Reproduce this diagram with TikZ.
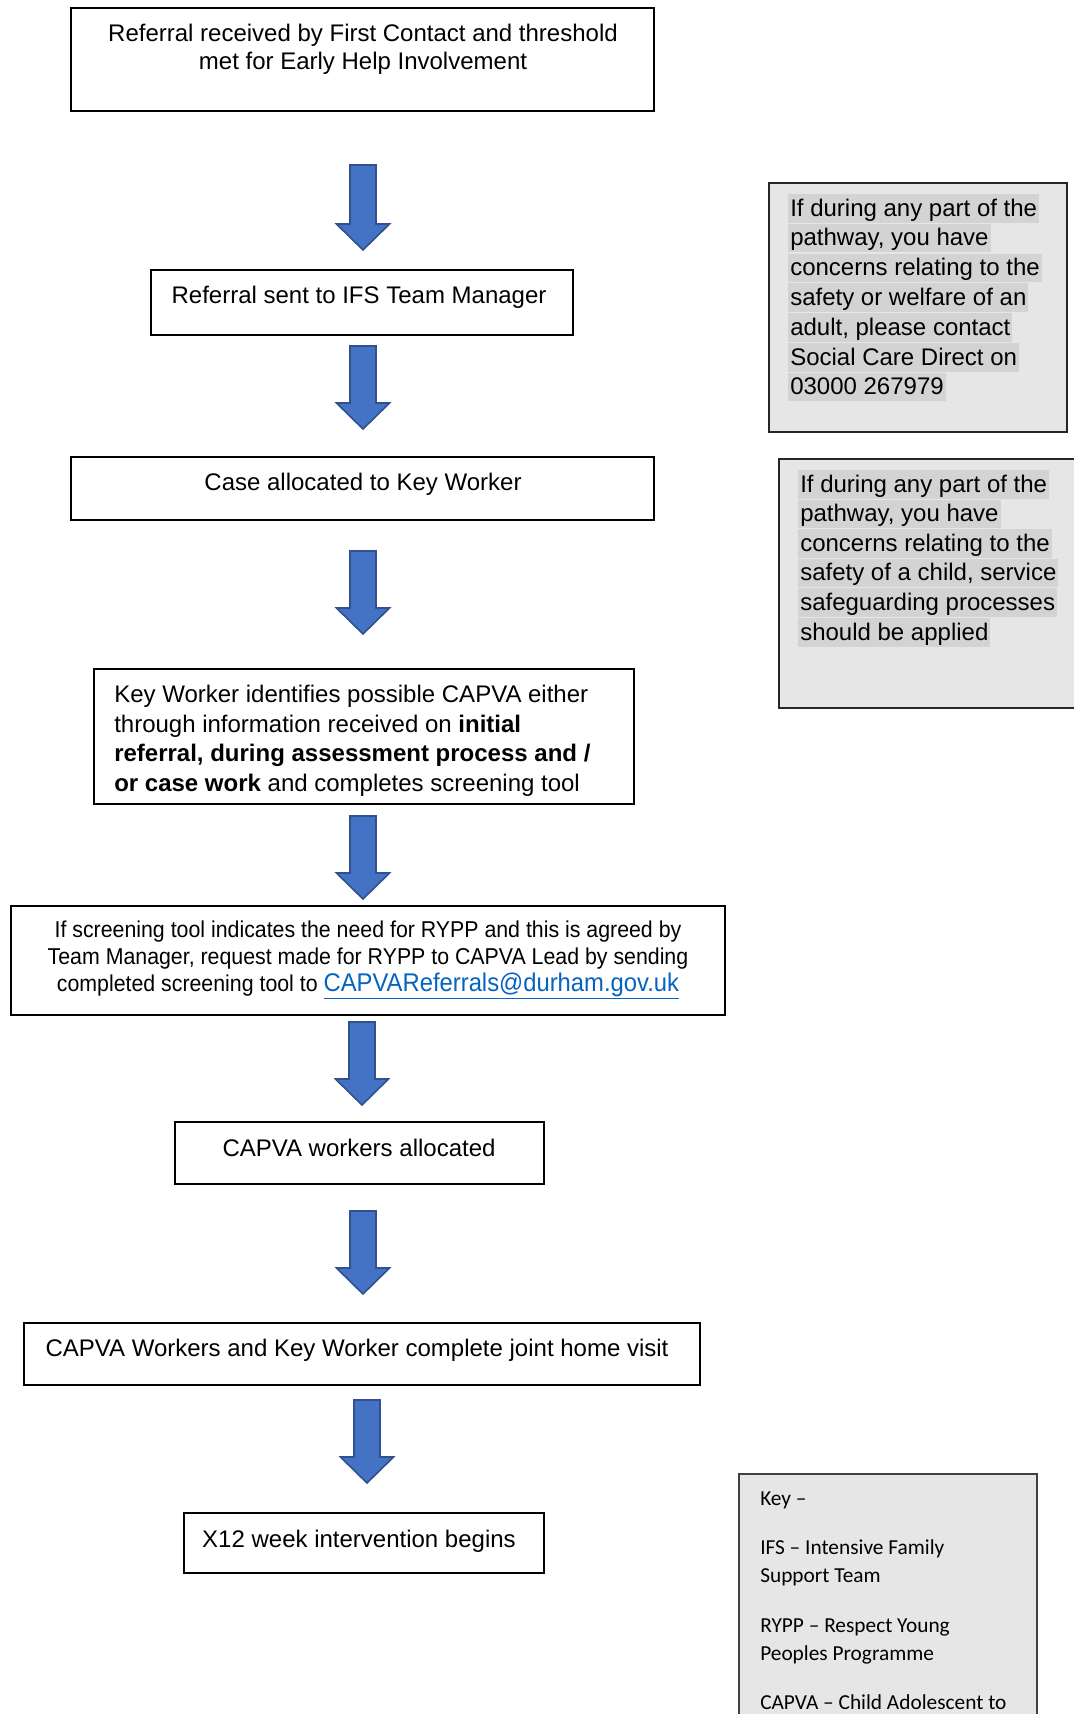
\documentclass[tikz,border=0pt]{standalone}
\usepackage{fontspec}
\setmainfont{Liberation Sans}
\newfontfamily\narrowfont[FakeStretch=0.93,Ligatures=TeX]{Liberation Sans}
\newfontfamily\keyfont[Ligatures=TeX]{Carlito}
\usetikzlibrary{fit}
\definecolor{arrowblue}{HTML}{4472C4}
\definecolor{arrowedge}{HTML}{2F528F}
\definecolor{sidefill}{HTML}{E6E6E6}
\definecolor{hlgray}{HTML}{D3D3D3}
\definecolor{linkblue}{HTML}{0563C1}
\newcommand\blockarrow[4]{%
  \coordinate (#1) at (#2,#3);
  \filldraw[arrowstyle] (#2-13,#3) -- (#2+13,#3) -- (#2+13,#4-26) -- (#2+26.5,#4-26)
    -- (#2,#4) -- (#2-26.5,#4-26) -- (#2-13,#4-26) -- cycle;}
\begin{document}
\begin{tikzpicture}[x=0.75pt,y=-0.75pt,
  box/.style={draw=black, line width=0.9pt, inner sep=0pt},
  sidebox/.style={draw=black!85, fill=sidefill, line width=1.5pt, inner sep=0pt},
  keybox/.style={draw=black!75, fill=sidefill, line width=1.5pt, inner sep=0pt},
  txt/.style={inner sep=0pt, anchor=base, font=\fontsize{18pt}{21pt}\selectfont},
  ltxt/.style={inner sep=0pt, anchor=base west, font=\fontsize{18pt}{21pt}\selectfont},
  ntxt/.style={inner sep=0pt, anchor=base, font=\narrowfont\fontsize{17.2pt}{20pt}\selectfont},
  hl/.style={fill=hlgray, inner xsep=1.5pt, inner ysep=0pt, text height=16.5pt, text depth=5pt,
    anchor=base west, font=\fontsize{18pt}{21pt}\selectfont},
  ktxt/.style={inner sep=0pt, anchor=base west, font=\keyfont\fontsize{16pt}{20pt}\selectfont},
  arrowstyle/.style={fill=arrowblue, draw=arrowedge, line width=1.2pt, line join=miter}]
\useasboundingbox (0,0) rectangle (1074,1714);
\fill[white] (0,0) rectangle (1074,1714);

% main boxes
\node[box, fit={(71,8) (654,111)}] (b1) {};
\node[txt] (t1a) at (363,41) {Referral received by First Contact and threshold};
\node[txt] (t1b) at (363,69) {met for Early Help Involvement};

\node[box, fit={(151,270) (573,335)}] (b2) {};
\node[txt] (t2) at (359,303) {Referral sent to IFS Team Manager};

\node[box, fit={(71,457) (654,520)}] (b3) {};
\node[txt] (t3) at (363,490) {Case allocated to Key Worker};

\node[box, fit={(94,669) (634,804)}] (b4) {};
\node[ltxt] (t4a) at (114,702) {Key Worker identifies possible CAPVA either};
\node[ltxt] (t4b) at (114,732) {through information received on \textbf{initial}};
\node[ltxt] (t4c) at (114,761) {\textbf{referral, during assessment process and /}};
\node[ltxt] (t4d) at (114,791) {\textbf{or case work} and completes screening tool};

\node[box, fit={(11,906) (725,1015)}] (b5) {};
\node[ntxt] (t5a) at (368,937) {If screening tool indicates the need for RYPP and this is agreed by};
\node[ntxt] (t5b) at (368,964) {Team Manager, request made for RYPP to CAPVA Lead by sending};
\node[ntxt] (t5c) at (368,991) {completed screening tool to \textcolor{linkblue}{\fontsize{19.2pt}{20pt}\selectfont\underline{CAPVAReferrals@durham.gov.uk}}};

\node[box, fit={(175,1122) (544,1184)}] (b6) {};
\node[txt] (t6) at (359,1156) {CAPVA workers allocated};

\node[box, fit={(24,1323) (700,1385)}] (b7) {};
\node[txt] (t7) at (357,1356) {CAPVA Workers and Key Worker complete joint home visit};

\node[box, fit={(184,1513) (544,1573)}] (b8) {};
\node[txt] (t8) at (359,1547) {X12 week intervention begins};

% block arrows
\blockarrow{a1}{363}{165}{250}
\blockarrow{a2}{363}{346}{429}
\blockarrow{a3}{363}{551}{634}
\blockarrow{a4}{363}{816}{899}
\blockarrow{a5}{362}{1022}{1105}
\blockarrow{a6}{363}{1211}{1294}
\blockarrow{a7}{367}{1400}{1483}

% side box 1
\node[sidebox, fit={(769,183) (1067,432)}] (s1) {};
\node[hl] (s1a) at (788,216) {If during any part of the};
\node[hl] (s1b) at (788,245.8) {pathway, you have};
\node[hl] (s1c) at (788,275.6) {concerns relating to the};
\node[hl] (s1d) at (788,305.4) {safety or welfare of an};
\node[hl] (s1e) at (788,335.2) {adult, please contact};
\node[hl] (s1f) at (788,365) {Social Care Direct on};
\node[hl] (s1g) at (788,394.8) {03000 267979};

% side box 2
\node[sidebox, fit={(779,459) (1080,708)}] (s2) {};
\node[hl] (s2a) at (798,492) {If during any part of the};
\node[hl] (s2b) at (798,521.6) {pathway, you have};
\node[hl] (s2c) at (798,551.2) {concerns relating to the};
\node[hl] (s2d) at (798,580.8) {safety of a child, service};
\node[hl] (s2e) at (798,610.4) {safeguarding processes};
\node[hl] (s2f) at (798,640) {should be applied};

% key box
\node[keybox, fit={(739,1474) (1037,1730)}] (k) {};
\node[ktxt] (k1) at (760,1505) {Key –};
\node[ktxt] (k2) at (760,1554) {IFS – Intensive Family};
\node[ktxt] (k3) at (760,1582) {Support Team};
\node[ktxt] (k4) at (760,1632) {RYPP – Respect Young};
\node[ktxt] (k5) at (760,1660) {Peoples Programme};
\node[ktxt] (k6) at (760,1709) {CAPVA – Child Adolescent to};
\end{tikzpicture}
\end{document}
